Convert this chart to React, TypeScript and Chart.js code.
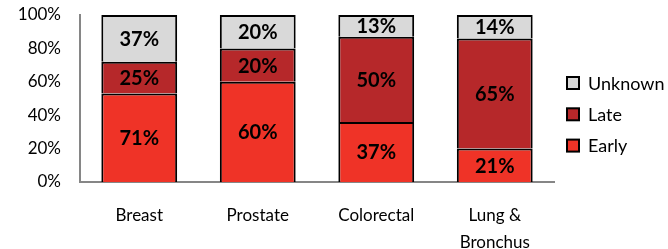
import React, { useEffect, useRef } from "react";
import { Chart, registerables } from "chart.js";

Chart.register(...registerables);

const categories: (string | string[])[] = ["Breast", "Prostate", "Colorectal", ["Lung &", "Bronchus"]];
const earlyValues = [53, 60, 36, 20];
const lateValues = [19, 20, 51, 66];
const unknownValues = [28, 20, 13, 14];
const earlyLabels = ["71%", "60%", "37%", "21%"];
const lateLabels = ["25%", "20%", "50%", "65%"];
const unknownLabels = ["37%", "20%", "13%", "14%"];
const yTicks = [0, 20, 40, 60, 80, 100];

const FONT = "Lato, 'DejaVu Sans', sans-serif";

export default function App() {
  const ref = useRef<HTMLCanvasElement | null>(null);
  useEffect(() => {
    document.body.style.margin = "0";
    const labelSets = [earlyLabels, lateLabels, unknownLabels];
    const dataLabelPlugin = {
      id: "segLabels",
      afterDatasetsDraw(chart: any) {
        const ctx = chart.ctx;
        ctx.save();
        ctx.font = `bold 20px ${FONT}`;
        ctx.fillStyle = "#000";
        ctx.textAlign = "center";
        ctx.textBaseline = "middle";
        chart.data.datasets.forEach((ds: any, di: number) => {
          const meta = chart.getDatasetMeta(di);
          meta.data.forEach((el: any, i: number) => {
            const p = el.getProps(["x", "y", "base"], true);
            ctx.fillText(labelSets[di][i], p.x, (p.y + p.base) / 2 + 1);
          });
        });
        ctx.restore();
      },
    };
    const legendPlugin = {
      id: "customLegend",
      afterDraw(chart: any) {
        const ctx = chart.ctx;
        ctx.save();
        ctx.font = `18px ${FONT}`;
        ctx.textBaseline = "middle";
        ctx.textAlign = "left";
        const ds = chart.data.datasets.slice().reverse();
        const x0 = chart.chartArea.right + 13;
        const yStart = 83;
        ds.forEach((d: any, i: number) => {
          const cy = yStart + i * 31.3;
          ctx.fillStyle = d.backgroundColor;
          ctx.fillRect(x0, cy - 6, 12, 12);
          ctx.strokeStyle = "#000";
          ctx.lineWidth = 2;
          ctx.strokeRect(x0, cy - 6, 12, 12);
          ctx.fillStyle = "#000";
          ctx.fillText(d.label, x0 + 21, cy + 1);
        });
        ctx.restore();
      },
    };
    const chart = new Chart(ref.current as HTMLCanvasElement, {
      type: "bar",
      data: {
        labels: categories,
        datasets: [
          { label: "Early", data: earlyValues, backgroundColor: "#EF3327", borderColor: "#000", borderWidth: 2 },
          { label: "Late", data: lateValues, backgroundColor: "#B6282A", borderColor: "#000", borderWidth: 2 },
          { label: "Unknown", data: unknownValues, backgroundColor: "#D9D9D9", borderColor: "#000", borderWidth: 2 },
        ],
      },
      options: {
        responsive: false,
        animation: false,
        layout: { padding: { top: 15, right: 114, bottom: 0, left: 0 } },
        plugins: { legend: { display: false }, tooltip: { enabled: false } },
        datasets: { bar: { categoryPercentage: 1, barPercentage: 0.64 } },
        scales: {
          x: {
            stacked: true,
            grid: { display: false, drawTicks: false },
            border: { display: true, color: "#868686", width: 2 },
            ticks: { color: "#000", font: { family: FONT, size: 17, lineHeight: 1.6 }, padding: 20, maxRotation: 0, autoSkip: false },
            afterFit: (s: any) => { s.height = 67; s.paddingLeft = 0; s.paddingRight = 0; },
          },
          y: {
            stacked: true,
            min: 0,
            max: 100,
            afterBuildTicks: (s: any) => { s.ticks = yTicks.map((v) => ({ value: v })); },
            grid: { display: false, drawTicks: false },
            border: { display: true, color: "#868686", width: 2 },
            ticks: { color: "#000", font: { family: FONT, size: 17 }, padding: 19, callback: (v: any) => v + "%" },
            afterFit: (s: any) => { s.width = 80; s.paddingTop = 0; s.paddingBottom = 0; },
          },
        },
      },
      plugins: [dataLabelPlugin, legendPlugin],
    });
    return () => chart.destroy();
  }, []);
  return (
    <div style={{ width: 668, height: 249, background: "#fff" }}>
      <canvas ref={ref} width={668} height={249} />
    </div>
  );
}
